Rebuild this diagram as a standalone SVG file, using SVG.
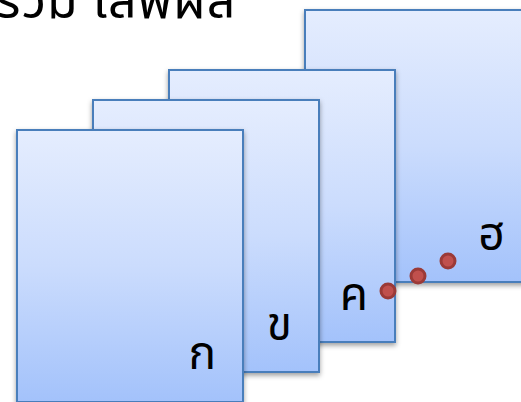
<svg xmlns="http://www.w3.org/2000/svg" width="521" height="402" viewBox="0 0 521 402">
<defs>
<linearGradient id="pg" x1="0" y1="0" x2="0" y2="1">
<stop offset="0" stop-color="#e5edfe"/>
<stop offset="0.5" stop-color="#cbdcfd"/>
<stop offset="1" stop-color="#a3c2fb"/>
</linearGradient>
<filter id="sh" x="-10%" y="-10%" width="120%" height="120%">
<feDropShadow dx="0" dy="2.5" stdDeviation="2.5" flood-color="#000" flood-opacity="0.38"/>
</filter>
</defs>
<style>
.card{fill:url(#pg);stroke:#4a7ebb;stroke-width:2;filter:url(#sh)}
.lbl{font-family:'Noto Sans','Noto Sans Thai',sans-serif;font-size:46px;fill:#000;text-anchor:end}
.title{font-family:'Noto Sans','Noto Sans Thai',sans-serif;font-size:50px;fill:#000;letter-spacing:1px}
.dot{fill:#c0504d;stroke:#9b3a37;stroke-width:3}
</style>
<rect width="521" height="402" fill="#fff"/>
<g id="title"><text class="title" x="-4" y="18">รวม เสพผล</text></g>
<g id="page4"><rect class="card" x="305" y="10" width="226" height="272"/><text class="lbl" x="504" y="250">ฮ</text></g>
<g id="page3"><rect class="card" x="169" y="70" width="226" height="272"/><text class="lbl" x="368" y="310">ค</text></g>
<g id="page2"><rect class="card" x="93" y="100" width="226" height="272"/><text class="lbl" x="292" y="340">ข</text></g>
<g id="page1"><rect class="card" x="17" y="130" width="226" height="272"/><text class="lbl" x="216" y="369">ก</text></g>
<g id="ellipsis">
<circle class="dot" cx="388" cy="291" r="7"/>
<circle class="dot" cx="418" cy="276" r="7"/>
<circle class="dot" cx="448" cy="261" r="7"/>
</g>
</svg>
